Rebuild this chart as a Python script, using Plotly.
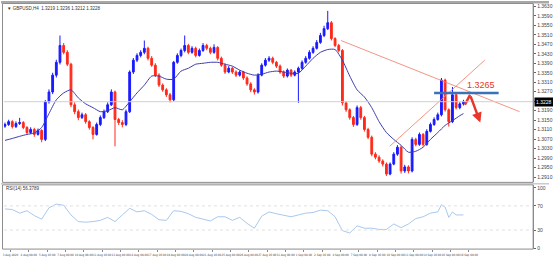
import plotly.graph_objects as go

# ---------------- data ----------------
bar_index = list(range(126))

open_ = [1.3125, 1.3132, 1.3144, 1.3123, 1.3136, 1.3140, 1.3119, 1.3098, 1.3111, 1.3090,
         1.3107, 1.3069, 1.3228, 1.3269, 1.3340, 1.3394, 1.3465, 1.3436, 1.3386, 1.3215,
         1.3186, 1.3161, 1.3173, 1.3144, 1.3119, 1.3090, 1.3132, 1.3161, 1.3186, 1.3215,
         1.3269, 1.3153, 1.3140, 1.3132, 1.3186, 1.3353, 1.3403, 1.3423, 1.3436, 1.3453,
         1.3411, 1.3382, 1.3340, 1.3298, 1.3278, 1.3257, 1.3236, 1.3394, 1.3423, 1.3444,
         1.3465, 1.3436, 1.3453, 1.3423, 1.3444, 1.3465, 1.3453, 1.3436, 1.3457, 1.3411,
         1.3382, 1.3353, 1.3369, 1.3353, 1.3340, 1.3353, 1.3328, 1.3303, 1.3278, 1.3269,
         1.3340, 1.3382, 1.3403, 1.3411, 1.3394, 1.3378, 1.3353, 1.3336, 1.3361, 1.3340,
         1.3353, 1.3369, 1.3394, 1.3411, 1.3436, 1.3453, 1.3478, 1.3507, 1.3536, 1.3561,
         1.3494, 1.3465, 1.3444, 1.3223, 1.3194, 1.3161, 1.3132, 1.3203, 1.3161, 1.3111,
         1.3078, 1.3007, 1.2994, 1.2978, 1.2965, 1.2923, 1.2965, 1.3007, 1.3036, 1.2936,
         1.2953, 1.2936, 1.3069, 1.3048, 1.3090, 1.3048, 1.3103, 1.3132, 1.3153, 1.3173,
         1.3319, 1.3194, 1.3144, 1.3257, 1.3203, 1.3219]

high = [1.3140, 1.3152, 1.3150, 1.3145, 1.3160, 1.3146, 1.3125, 1.3120, 1.3118, 1.3115,
        1.3112, 1.3235, 1.3280, 1.3350, 1.3405, 1.3507, 1.3475, 1.3445, 1.3392, 1.3225,
        1.3195, 1.3182, 1.3180, 1.3150, 1.3125, 1.3140, 1.3170, 1.3195, 1.3225, 1.3280,
        1.3275, 1.3160, 1.3150, 1.3195, 1.3360, 1.3412, 1.3432, 1.3445, 1.3486, 1.3460,
        1.3420, 1.3390, 1.3348, 1.3305, 1.3285, 1.3265, 1.3400, 1.3432, 1.3452, 1.3507,
        1.3472, 1.3462, 1.3460, 1.3452, 1.3475, 1.3472, 1.3460, 1.3470, 1.3462, 1.3418,
        1.3390, 1.3378, 1.3375, 1.3360, 1.3360, 1.3358, 1.3335, 1.3310, 1.3285, 1.3348,
        1.3390, 1.3412, 1.3420, 1.3418, 1.3400, 1.3385, 1.3360, 1.3368, 1.3366, 1.3360,
        1.3376, 1.3402, 1.3420, 1.3445, 1.3462, 1.3488, 1.3518, 1.3548, 1.3611, 1.3568,
        1.3500, 1.3472, 1.3450, 1.3230, 1.3200, 1.3168, 1.3212, 1.3210, 1.3168, 1.3118,
        1.3085, 1.3015, 1.3002, 1.2985, 1.2972, 1.2972, 1.3015, 1.3045, 1.3042, 1.2962,
        1.2960, 1.3078, 1.3076, 1.3098, 1.3096, 1.3112, 1.3140, 1.3162, 1.3182, 1.3328,
        1.3325, 1.3200, 1.3290, 1.3262, 1.3226, 1.3236]

low = [1.3118, 1.3126, 1.3115, 1.3117, 1.3130, 1.3112, 1.3090, 1.3092, 1.3080, 1.3085,
       1.3057, 1.3062, 1.3220, 1.3260, 1.3330, 1.3385, 1.3428, 1.3378, 1.3205, 1.3175,
       1.3150, 1.3155, 1.3135, 1.3110, 1.3069, 1.3085, 1.3125, 1.3155, 1.3180, 1.3210,
       1.3040, 1.3130, 1.3120, 1.3125, 1.3180, 1.3345, 1.3395, 1.3415, 1.3428, 1.3402,
       1.3375, 1.3332, 1.3290, 1.3270, 1.3248, 1.3225, 1.3230, 1.3388, 1.3415, 1.3436,
       1.3428, 1.3430, 1.3415, 1.3418, 1.3438, 1.3445, 1.3428, 1.3430, 1.3402, 1.3375,
       1.3345, 1.3348, 1.3345, 1.3332, 1.3334, 1.3320, 1.3295, 1.3268, 1.3258, 1.3262,
       1.3335, 1.3376, 1.3396, 1.3386, 1.3370, 1.3345, 1.3328, 1.3330, 1.3332, 1.3335,
       1.3223, 1.3362, 1.3388, 1.3405, 1.3430, 1.3448, 1.3472, 1.3500, 1.3530, 1.3486,
       1.3458, 1.3436, 1.3212, 1.3185, 1.3152, 1.3122, 1.3126, 1.3152, 1.3102, 1.3070,
       1.2998, 1.2985, 1.2970, 1.2955, 1.2915, 1.2918, 1.2960, 1.3000, 1.2925, 1.2928,
       1.2926, 1.2930, 1.3040, 1.3042, 1.3040, 1.3042, 1.3098, 1.3126, 1.3148, 1.3166,
       1.3186, 1.3123, 1.3138, 1.3195, 1.3196, 1.3212]

close = [1.3132, 1.3144, 1.3123, 1.3136, 1.3140, 1.3119, 1.3098, 1.3111, 1.3090, 1.3107,
         1.3069, 1.3228, 1.3269, 1.3340, 1.3394, 1.3465, 1.3436, 1.3386, 1.3215, 1.3186,
         1.3161, 1.3173, 1.3144, 1.3119, 1.3090, 1.3132, 1.3161, 1.3186, 1.3215, 1.3269,
         1.3153, 1.3140, 1.3132, 1.3186, 1.3353, 1.3403, 1.3423, 1.3436, 1.3453, 1.3411,
         1.3382, 1.3340, 1.3298, 1.3278, 1.3257, 1.3236, 1.3394, 1.3423, 1.3444, 1.3465,
         1.3436, 1.3453, 1.3423, 1.3444, 1.3465, 1.3453, 1.3436, 1.3457, 1.3411, 1.3382,
         1.3353, 1.3369, 1.3353, 1.3340, 1.3353, 1.3328, 1.3303, 1.3278, 1.3269, 1.3340,
         1.3382, 1.3403, 1.3411, 1.3394, 1.3378, 1.3353, 1.3336, 1.3361, 1.3340, 1.3353,
         1.3369, 1.3394, 1.3411, 1.3436, 1.3453, 1.3478, 1.3507, 1.3536, 1.3561, 1.3494,
         1.3465, 1.3444, 1.3223, 1.3194, 1.3161, 1.3132, 1.3203, 1.3161, 1.3111, 1.3078,
         1.3007, 1.2994, 1.2978, 1.2965, 1.2923, 1.2965, 1.3007, 1.3036, 1.2936, 1.2953,
         1.2936, 1.3069, 1.3048, 1.3090, 1.3048, 1.3103, 1.3132, 1.3153, 1.3173, 1.3319,
         1.3194, 1.3144, 1.3257, 1.3203, 1.3219, 1.3228]

ma_index = list(range(0, 125, 2)) + [125]
ma_values = [1.3065, 1.3073, 1.3082, 1.3090, 1.3096, 1.3119, 1.3178, 1.3236, 1.3265, 1.3278,
             1.3244, 1.3219, 1.3203, 1.3186, 1.3190, 1.3203, 1.3194, 1.3228, 1.3265, 1.3298,
             1.3336, 1.3336, 1.3323, 1.3323, 1.3357, 1.3369, 1.3386, 1.3390, 1.3394, 1.3394,
             1.3386, 1.3378, 1.3361, 1.3348, 1.3340, 1.3344, 1.3353, 1.3357, 1.3353, 1.3348,
             1.3348, 1.3378, 1.3411, 1.3436, 1.3448, 1.3448, 1.3403, 1.3336, 1.3278, 1.3248,
             1.3203, 1.3144, 1.3098, 1.3069, 1.3044, 1.3015, 1.3019, 1.3036, 1.3069, 1.3098,
             1.3128, 1.3148, 1.3169, 1.3178]

rsi_index = list(range(0, 119, 2)) + [119, 120, 121, 122, 123, 124, 125]
rsi_values = [65, 64, 58, 62, 54, 48, 67, 73, 71, 55,
              44, 43, 44, 46, 51, 44, 55, 66, 60, 62,
              56, 47, 46, 62, 61, 57, 51, 48, 45, 52,
              52, 46, 51, 41, 33, 53, 60, 57, 54, 52,
              55, 58, 59, 63, 62, 52, 29, 25, 37, 33,
              33, 31, 31, 40, 34, 40, 49, 52, 58, 60,
              72, 68, 51, 60, 55, 55, 55]
rsi_levels = [70, 30]
rsi_ticks = [0, 30, 70, 100]

price_ticks = [round(1.2910 + 0.0040 * k, 4) for k in range(19)]
date_tick_bars = [1.5 + 5 * k for k in range(26)]
date_labels = ["3 Aug 2020", "4 Aug 08:00", "5 Aug 16:00", "7 Aug 00:00", "10 Aug 08:00",
               "11 Aug 16:00", "13 Aug 00:00", "14 Aug 08:00", "17 Aug 16:00", "19 Aug 00:00",
               "20 Aug 08:00", "21 Aug 16:00", "25 Aug 00:00", "26 Aug 08:00", "27 Aug 16:00",
               "31 Aug 00:00", "1 Sep 08:00", "2 Sep 16:00", "4 Sep 00:00", "7 Sep 08:00",
               "8 Sep 16:00", "10 Sep 00:00", "11 Sep 08:00", "14 Sep 16:00", "16 Sep 00:00",
               "16 Sep 08:00"]

current_price = 1.3228
level_price = 1.3265
level_bars = [117, 134.6]
down_trend_bars = [91.6, 140.3]
down_trend_prices = [1.3486, 1.3186]
up_trend_bars = [104.9, 130.8]
up_trend_prices = [1.3040, 1.3403]
arrow_bars = [125.4, 126.8, 129.6]
arrow_prices = [1.3215, 1.3257, 1.3140]
label_bar = 129.7
label_price = 1.3300

# ---------------- figure ----------------
W, H = 553, 259
def px(x):
    return x / W
def py(y):
    return 1 - y / H

XR = [-0.27, 144.0]
fig = go.Figure()

fig.add_trace(go.Candlestick(
    x=bar_index, open=open_, high=high, low=low, close=close,
    increasing=dict(line=dict(color="#1a1aff", width=1), fillcolor="#1a1aff"),
    decreasing=dict(line=dict(color="#ff2a1a", width=1), fillcolor="#ff2a1a"),
    whiskerwidth=0, xaxis="x", yaxis="y", showlegend=False, hoverinfo="skip"))

fig.add_trace(go.Scatter(x=ma_index, y=ma_values, mode="lines",
                         line=dict(color="#3c3cae", width=1, shape="spline", smoothing=0.6),
                         xaxis="x", yaxis="y", showlegend=False, hoverinfo="skip"))

# trend lines
fig.add_trace(go.Scatter(x=down_trend_bars, y=down_trend_prices, mode="lines",
                         line=dict(color="rgba(240,130,110,0.85)", width=1),
                         xaxis="x", yaxis="y", showlegend=False, hoverinfo="skip"))
fig.add_trace(go.Scatter(x=up_trend_bars, y=up_trend_prices, mode="lines",
                         line=dict(color="rgba(240,130,110,0.85)", width=1),
                         xaxis="x", yaxis="y", showlegend=False, hoverinfo="skip"))
# resistance level
fig.add_trace(go.Scatter(x=level_bars, y=[level_price, level_price], mode="lines",
                         line=dict(color="#3a72b8", width=2.5),
                         xaxis="x", yaxis="y", showlegend=False, hoverinfo="skip"))
# arrow first segment
fig.add_trace(go.Scatter(x=arrow_bars[:2], y=arrow_prices[:2], mode="lines",
                         line=dict(color="#e8362c", width=2.5),
                         xaxis="x", yaxis="y", showlegend=False, hoverinfo="skip"))
fig.add_annotation(x=arrow_bars[2], y=arrow_prices[2], ax=arrow_bars[1], ay=arrow_prices[1],
                   xref="x", yref="y", axref="x", ayref="y", text="", showarrow=True,
                   arrowhead=2, arrowsize=0.8, arrowwidth=2.5, arrowcolor="#e8362c")
fig.add_annotation(x=label_bar, y=label_price, xref="x", yref="y", text="1.3265",
                   showarrow=False, font=dict(family="Arial, Liberation Sans", size=9, color="#e8362c"))

# RSI
fig.add_trace(go.Scatter(x=rsi_index, y=rsi_values, mode="lines",
                         line=dict(color="#a9c8ec", width=1),
                         xaxis="x2", yaxis="y2", showlegend=False, hoverinfo="skip"))

shapes = []
# current price line
shapes.append(dict(type="line", xref="paper", yref="y", x0=px(3), x1=px(537),
                   y0=current_price, y1=current_price, line=dict(color="#d0d0d0", width=1)))
for lv in rsi_levels:
    shapes.append(dict(type="line", xref="paper", yref="y2", x0=px(3), x1=px(537),
                       y0=lv, y1=lv, line=dict(color="#e0e0e0", width=1, dash="dot")))
# frames
shapes.append(dict(type="rect", xref="paper", yref="paper", x0=0, x1=1, y0=py(2.5), y1=1,
                   fillcolor="#a8a8a8", line=dict(width=0)))
shapes.append(dict(type="rect", xref="paper", yref="paper", x0=px(1.5), x1=px(537),
                   y0=py(183.5), y1=py(2.5), line=dict(color="#8c8c8c", width=1)))
shapes.append(dict(type="rect", xref="paper", yref="paper", x0=px(1.5), x1=px(537),
                   y0=py(251), y1=py(186), line=dict(color="#8c8c8c", width=1)))
shapes.append(dict(type="line", xref="paper", yref="paper", x0=0, x1=1,
                   y0=py(185), y1=py(185), line=dict(color="#b0b0b0", width=1)))
fig.update_layout(shapes=shapes)

# titles
fig.add_annotation(xref="paper", yref="paper", x=px(4), y=py(7.5), xanchor="left", yanchor="middle",
                   text="\u25bc GBPUSD,H4  1.3219 1.3236 1.3212 1.3228", showarrow=False,
                   font=dict(family="Arial, Liberation Sans", size=4.5, color="#333"))
fig.add_annotation(xref="paper", yref="paper", x=px(3), y=py(190), xanchor="left", yanchor="middle",
                   text="RSI(14) 56.3789", showarrow=False,
                   font=dict(family="Arial, Liberation Sans", size=4.5, color="#333"))
# current price tag
fig.add_annotation(xref="paper", yref="y", x=px(537.5), y=current_price, xanchor="left",
                   yanchor="middle", text="1.3228", showarrow=False, bgcolor="#000",
                   borderpad=1, font=dict(family="Arial, Liberation Sans", size=5, color="#fff"))

axis_font = dict(family="Arial, Liberation Sans", size=5, color="#444")
fig.update_layout(
    width=W, height=H, margin=dict(l=0, r=0, t=0, b=0),
    paper_bgcolor="white", plot_bgcolor="white",
    xaxis=dict(domain=[px(3), px(537)], range=XR, anchor="y", showticklabels=False,
               showgrid=False, zeroline=False, rangeslider=dict(visible=False), fixedrange=True),
    yaxis=dict(domain=[py(183), py(3)], range=[1.2890, 1.3640], side="right", anchor="x",
               tickvals=price_ticks, tickformat=".4f", ticks="outside", ticklen=2,
               tickcolor="#666", tickfont=axis_font, showgrid=False, zeroline=False,
               showline=True, linecolor="#888", linewidth=1),
    xaxis2=dict(domain=[px(3), px(537)], range=XR, anchor="y2", tickvals=date_tick_bars,
                ticktext=date_labels, ticks="outside", ticklen=2, tickcolor="#888",
                tickfont=dict(family="Liberation Sans Narrow, DejaVu Sans Condensed, Arial",
                              size=3, color="#444"),
                showgrid=False, zeroline=False, tickangle=0),
    yaxis2=dict(domain=[py(251), py(186)], range=[-1.6, 104.9], side="right", anchor="x2",
                tickvals=rsi_ticks, ticks="outside", ticklen=2, tickcolor="#666",
                tickfont=axis_font, showgrid=False, zeroline=False,
                showline=True, linecolor="#888", linewidth=1),
)

fig.write_html("out.html")
